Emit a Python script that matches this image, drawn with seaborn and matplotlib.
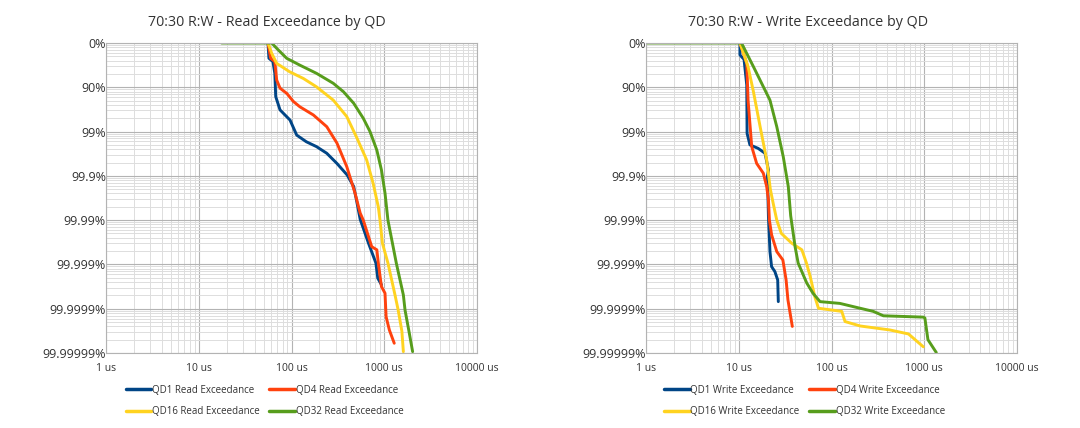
import numpy as np
import pandas as pd
import matplotlib
matplotlib.use("Agg")
import matplotlib.pyplot as plt
import seaborn as sns
from matplotlib.ticker import LogLocator, FixedLocator, FuncFormatter, NullFormatter

# ---------------- data (latency in us, "nines" of percentile) ----------------
read_qd1_us = [55.8, 57.1, 63.1, 66.1, 67.6, 75.2, 85.1, 96.4, 113.8, 144.5, 186, 240, 309, 398, 468, 501, 550, 676, 813, 851, 933]
read_qd1_n = [0, 0.345, 0.42, 0.685, 1.21, 1.51, 1.625, 1.74, 2.08, 2.23, 2.34, 2.49, 2.72, 2.98, 3.24, 3.54, 3.98, 4.52, 4.97, 5.31, 5.46]

read_qd4_us = [55.8, 59.6, 66.1, 69.2, 75.2, 89.1, 104.7, 123, 172, 240, 309, 394, 484, 550, 594, 733, 832, 863, 933, 1019, 1047, 1135, 1282]
read_qd4_n = [0, 0.345, 0.42, 0.835, 1.02, 1.14, 1.32, 1.44, 1.625, 1.89, 2.26, 2.79, 3.39, 3.84, 4.0, 4.6, 4.67, 4.97, 5.5, 5.65, 6.18, 6.48, 6.78]

read_qd16_us = [55.8, 61.1, 69.2, 95.5, 134, 186, 282, 394, 501, 646, 759, 863, 900, 955, 1096, 1306, 1413, 1549, 1607]
read_qd16_n = [0, 0.23, 0.46, 0.65, 0.80, 0.99, 1.29, 1.66, 2.12, 2.64, 3.17, 3.70, 4.0, 4.52, 4.97, 5.69, 6.03, 6.51, 6.97]

read_qd32_us = [17.6, 61.1, 69.2, 88.7, 123, 186, 282, 363, 468, 594, 702, 832, 933, 1019, 1096, 1349, 1607, 1675, 1862, 2023]
read_qd32_n = [0, 0, 0.12, 0.345, 0.50, 0.685, 0.91, 1.10, 1.36, 1.70, 2.0, 2.42, 2.87, 3.39, 4.0, 4.97, 5.69, 6.03, 6.55, 6.97]

write_qd1_us = [10.3, 10.3, 11.4, 12.2, 12.3, 13.2, 16.2, 19.2, 20.9, 20.4, 20.9, 21.7, 22.6, 24.5, 26.3, 26.7]
write_qd1_n = [0, 0.27, 0.37, 0.95, 2.04, 2.3, 2.38, 2.49, 2.87, 3.0, 3.92, 4.71, 5.05, 5.16, 5.35, 5.84]

write_qd4_us = [10.3, 12.2, 12.6, 13.8, 15.6, 18.4, 20.0, 20.9, 21.4, 22.6, 25.7, 29.9, 32.4, 33.9, 37.8]
write_qd4_n = [0, 0.46, 1.29, 2.34, 2.72, 2.94, 3.24, 3.54, 4.0, 4.33, 4.71, 4.9, 5.35, 5.8, 6.4]

write_qd16_us = [10.3, 12.6, 14.4, 17.0, 20.0, 21.9, 23.4, 25.7, 28.8, 37.2, 47.9, 53.7, 58.9, 66.1, 72.4, 129, 140, 204, 427, 676, 977]
write_qd16_n = [0, 0.535, 1.1, 1.89, 2.64, 3.3, 3.6, 4.0, 4.3, 4.52, 4.67, 4.97, 5.27, 5.73, 5.99, 6.06, 6.29, 6.39, 6.48, 6.57, 6.86]

write_qd32_us = [1, 10.7, 14.4, 21.7, 25.7, 30.2, 34.2, 36.3, 40.5, 43.7, 54.1, 63.1, 75.2, 123, 186, 282, 363, 977, 1016, 1096, 1349]
write_qd32_n = [0, 0, 0.535, 1.29, 1.89, 2.57, 3.24, 3.9, 4.6, 4.97, 5.42, 5.65, 5.84, 5.88, 5.97, 6.06, 6.16, 6.19, 6.21, 6.70, 6.99]

y_tick_labels = ["0%", "90%", "99%", "99.9%", "99.99%", "99.999%", "99.9999%", "99.99999%"]
x_tick_labels = ["1 us", "10 us", "100 us", "1000 us", "10000 us"]
titles = ["70:30 R:W - Read Exceedance by QD", "70:30 R:W - Write Exceedance by QD"]

read_series = [("QD1 Read Exceedance", read_qd1_us, read_qd1_n),
               ("QD4 Read Exceedance", read_qd4_us, read_qd4_n),
               ("QD16 Read Exceedance", read_qd16_us, read_qd16_n),
               ("QD32 Read Exceedance", read_qd32_us, read_qd32_n)]
write_series = [("QD1 Write Exceedance", write_qd1_us, write_qd1_n),
                ("QD4 Write Exceedance", write_qd4_us, write_qd4_n),
                ("QD16 Write Exceedance", write_qd16_us, write_qd16_n),
                ("QD32 Write Exceedance", write_qd32_us, write_qd32_n)]
colors = ["#004586", "#ff420e", "#ffd320", "#579d1c"]

# ---------------- figure ----------------
sns.set_theme(style="white")
plt.rcParams["font.family"] = ["Open Sans", "DejaVu Sans"]
fig = plt.figure(figsize=(10.8, 4.28), dpi=100)

axes_rects = [[106 / 1080, 1 - 353 / 428, 371 / 1080, 310 / 428],
              [646 / 1080, 1 - 353 / 428, 371 / 1080, 310 / 428]]

for idx, (series, rect, title) in enumerate(zip([read_series, write_series], axes_rects, titles)):
    ax = fig.add_axes(rect)
    rows = []
    for name, xs, ns in series:
        for i, (x, n) in enumerate(zip(xs, ns)):
            rows.append({"series": name, "order": i, "latency": x, "exceed": 10.0 ** (-n)})
    df = pd.DataFrame(rows)
    names = [s[0] for s in series]
    sns.lineplot(data=df, x="latency", y="exceed", hue="series", hue_order=names,
                 palette=colors, sort=False, estimator=None, linewidth=2.1, ax=ax,
                 legend=True)
    ax.set_xscale("log")
    ax.set_yscale("log")
    ax.set_xlim(1, 10000)
    ax.set_ylim(1e-7, 1)
    ax.xaxis.set_major_locator(FixedLocator([1, 10, 100, 1000, 10000]))
    ax.xaxis.set_major_formatter(FuncFormatter(lambda v, p: x_tick_labels[int(round(np.log10(v)))]))
    ax.xaxis.set_minor_locator(LogLocator(base=10, subs=np.arange(2, 10), numticks=20))
    ax.xaxis.set_minor_formatter(NullFormatter())
    ax.yaxis.set_major_locator(FixedLocator([10.0 ** (-k) for k in range(8)]))
    ax.yaxis.set_major_formatter(FuncFormatter(lambda v, p: y_tick_labels[int(round(-np.log10(v)))]))
    ax.yaxis.set_minor_locator(LogLocator(base=10, subs=np.arange(2, 10), numticks=20))
    ax.yaxis.set_minor_formatter(NullFormatter())
    ax.grid(True, which="major", color="#b3b3b3", linewidth=0.8)
    ax.grid(True, which="minor", color="#dddddd", linewidth=0.7)
    ax.set_axisbelow(True)
    for sp in ax.spines.values():
        sp.set_color("#b3b3b3")
        sp.set_linewidth(0.8)
    ax.tick_params(axis="y", which="both", length=0, pad=0, labelsize=9, labelcolor="#333333")
    ax.tick_params(axis="x", which="major", length=3, color="#b3b3b3", pad=4, labelsize=7.5, labelcolor="#333333")
    ax.tick_params(axis="x", which="minor", length=3, color="#b3b3b3")
    ax.set_xlabel("")
    ax.set_ylabel("")

    handles, labels = ax.get_legend_handles_labels()
    ax.get_legend().remove()
    order = [0, 2, 1, 3]
    cx = 0.245 if idx == 0 else 0.745
    leg = fig.legend([handles[i] for i in order], [labels[i] for i in order],
                     loc="center", bbox_to_anchor=(cx, 1 - 401 / 428), ncol=2, frameon=False,
                     fontsize=7, handlelength=2.6, columnspacing=1.0, handletextpad=0.1,
                     labelspacing=1.1)
    for t in leg.get_texts():
        t.set_color("#333333")
    for h in leg.legend_handles:
        h.set_linewidth(2.5)

    fig.text(0.247 if idx == 0 else 0.748, 1 - 22 / 428, title, ha="center", va="center",
             fontsize=10.3, color="#333333")

fig.savefig("out.png", dpi=100, facecolor="white")
